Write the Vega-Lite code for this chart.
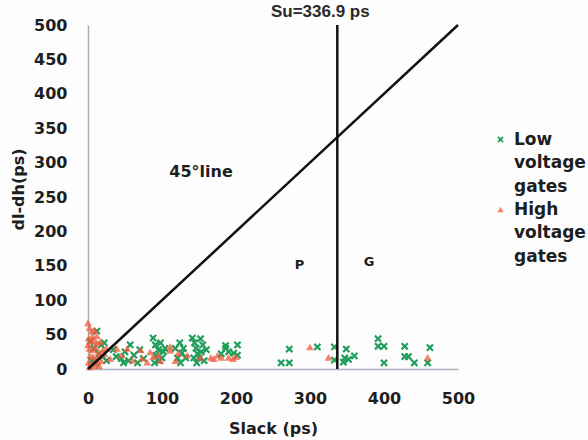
{
  "$schema": "https://vega.github.io/schema/vega-lite/v6.json",
  "width": 370,
  "height": 344,
  "autosize": {"type": "none"},
  "padding": {"left": 88, "top": 25, "right": 130, "bottom": 71},
  "background": "#fdfdfd",
  "config": {
    "font": "DejaVu Sans",
    "view": {"stroke": null},
    "style": {"guide-label": {"lineHeight": 23.5}},
    "axis": {"grid": false, "ticks": false, "labelFlush": false, "labelOverlap": false, "domainColor": "#a9b2bc", "domainWidth": 1.5, "labelFont": "DejaVu Sans", "labelFontWeight": "bold", "labelFontSize": 16, "labelColor": "#1e1e1e", "titleFont": "DejaVu Sans", "titleFontWeight": "bold", "titleFontSize": 16, "titleColor": "#1e1e1e"}
  },
  "datasets": {
    "pts": [
      {"slack": 12, "d": 55, "g": "Low voltage gates"},
      {"slack": 3, "d": 40, "g": "Low voltage gates"},
      {"slack": 8, "d": 30, "g": "Low voltage gates"},
      {"slack": 15, "d": 22, "g": "Low voltage gates"},
      {"slack": 5, "d": 12, "g": "Low voltage gates"},
      {"slack": 18, "d": 35, "g": "Low voltage gates"},
      {"slack": 10, "d": 8, "g": "Low voltage gates"},
      {"slack": 22, "d": 38, "g": "Low voltage gates"},
      {"slack": 20, "d": 18, "g": "Low voltage gates"},
      {"slack": 25, "d": 12, "g": "Low voltage gates"},
      {"slack": 34, "d": 28, "g": "Low voltage gates"},
      {"slack": 38, "d": 18, "g": "Low voltage gates"},
      {"slack": 45, "d": 15, "g": "Low voltage gates"},
      {"slack": 50, "d": 25, "g": "Low voltage gates"},
      {"slack": 55, "d": 12, "g": "Low voltage gates"},
      {"slack": 57, "d": 35, "g": "Low voltage gates"},
      {"slack": 62, "d": 20, "g": "Low voltage gates"},
      {"slack": 67, "d": 9, "g": "Low voltage gates"},
      {"slack": 70, "d": 28, "g": "Low voltage gates"},
      {"slack": 75, "d": 15, "g": "Low voltage gates"},
      {"slack": 48, "d": 9, "g": "Low voltage gates"},
      {"slack": 88, "d": 45, "g": "Low voltage gates"},
      {"slack": 91, "d": 35, "g": "Low voltage gates"},
      {"slack": 92, "d": 20, "g": "Low voltage gates"},
      {"slack": 95, "d": 28, "g": "Low voltage gates"},
      {"slack": 96, "d": 12, "g": "Low voltage gates"},
      {"slack": 98, "d": 38, "g": "Low voltage gates"},
      {"slack": 100, "d": 16, "g": "Low voltage gates"},
      {"slack": 102, "d": 25, "g": "Low voltage gates"},
      {"slack": 90, "d": 9, "g": "Low voltage gates"},
      {"slack": 104, "d": 30, "g": "Low voltage gates"},
      {"slack": 118, "d": 30, "g": "Low voltage gates"},
      {"slack": 121, "d": 16, "g": "Low voltage gates"},
      {"slack": 124, "d": 38, "g": "Low voltage gates"},
      {"slack": 127, "d": 23, "g": "Low voltage gates"},
      {"slack": 129, "d": 30, "g": "Low voltage gates"},
      {"slack": 132, "d": 16, "g": "Low voltage gates"},
      {"slack": 125, "d": 9, "g": "Low voltage gates"},
      {"slack": 141, "d": 45, "g": "Low voltage gates"},
      {"slack": 144, "d": 38, "g": "Low voltage gates"},
      {"slack": 146, "d": 30, "g": "Low voltage gates"},
      {"slack": 148, "d": 22, "g": "Low voltage gates"},
      {"slack": 150, "d": 16, "g": "Low voltage gates"},
      {"slack": 152, "d": 44, "g": "Low voltage gates"},
      {"slack": 155, "d": 35, "g": "Low voltage gates"},
      {"slack": 147, "d": 9, "g": "Low voltage gates"},
      {"slack": 153, "d": 25, "g": "Low voltage gates"},
      {"slack": 157, "d": 12, "g": "Low voltage gates"},
      {"slack": 160, "d": 28, "g": "Low voltage gates"},
      {"slack": 143, "d": 16, "g": "Low voltage gates"},
      {"slack": 180, "d": 22, "g": "Low voltage gates"},
      {"slack": 186, "d": 30, "g": "Low voltage gates"},
      {"slack": 190, "d": 25, "g": "Low voltage gates"},
      {"slack": 197, "d": 23, "g": "Low voltage gates"},
      {"slack": 202, "d": 35, "g": "Low voltage gates"},
      {"slack": 202, "d": 20, "g": "Low voltage gates"},
      {"slack": 186, "d": 34, "g": "Low voltage gates"},
      {"slack": 261, "d": 9, "g": "Low voltage gates"},
      {"slack": 272, "d": 9, "g": "Low voltage gates"},
      {"slack": 272, "d": 29, "g": "Low voltage gates"},
      {"slack": 310, "d": 32, "g": "Low voltage gates"},
      {"slack": 333, "d": 32, "g": "Low voltage gates"},
      {"slack": 333, "d": 13, "g": "Low voltage gates"},
      {"slack": 349, "d": 29, "g": "Low voltage gates"},
      {"slack": 347, "d": 16, "g": "Low voltage gates"},
      {"slack": 345, "d": 10, "g": "Low voltage gates"},
      {"slack": 352, "d": 14, "g": "Low voltage gates"},
      {"slack": 360, "d": 19, "g": "Low voltage gates"},
      {"slack": 392, "d": 44, "g": "Low voltage gates"},
      {"slack": 392, "d": 33, "g": "Low voltage gates"},
      {"slack": 400, "d": 33, "g": "Low voltage gates"},
      {"slack": 400, "d": 9, "g": "Low voltage gates"},
      {"slack": 428, "d": 33, "g": "Low voltage gates"},
      {"slack": 428, "d": 18, "g": "Low voltage gates"},
      {"slack": 433, "d": 18, "g": "Low voltage gates"},
      {"slack": 441, "d": 9, "g": "Low voltage gates"},
      {"slack": 459, "d": 9, "g": "Low voltage gates"},
      {"slack": 462, "d": 31, "g": "Low voltage gates"},
      {"slack": 0, "d": 67, "g": "High voltage gates"},
      {"slack": 2, "d": 60, "g": "High voltage gates"},
      {"slack": 5, "d": 55, "g": "High voltage gates"},
      {"slack": 9, "d": 57, "g": "High voltage gates"},
      {"slack": 1, "d": 45, "g": "High voltage gates"},
      {"slack": 4, "d": 40, "g": "High voltage gates"},
      {"slack": 8, "d": 42, "g": "High voltage gates"},
      {"slack": 12, "d": 38, "g": "High voltage gates"},
      {"slack": 2, "d": 30, "g": "High voltage gates"},
      {"slack": 6, "d": 28, "g": "High voltage gates"},
      {"slack": 10, "d": 32, "g": "High voltage gates"},
      {"slack": 14, "d": 25, "g": "High voltage gates"},
      {"slack": 3, "d": 20, "g": "High voltage gates"},
      {"slack": 7, "d": 18, "g": "High voltage gates"},
      {"slack": 11, "d": 15, "g": "High voltage gates"},
      {"slack": 16, "d": 20, "g": "High voltage gates"},
      {"slack": 20, "d": 28, "g": "High voltage gates"},
      {"slack": 1, "d": 10, "g": "High voltage gates"},
      {"slack": 5, "d": 8, "g": "High voltage gates"},
      {"slack": 9, "d": 5, "g": "High voltage gates"},
      {"slack": 13, "d": 10, "g": "High voltage gates"},
      {"slack": 18, "d": 12, "g": "High voltage gates"},
      {"slack": 2, "d": 3, "g": "High voltage gates"},
      {"slack": 15, "d": 5, "g": "High voltage gates"},
      {"slack": 22, "d": 22, "g": "High voltage gates"},
      {"slack": 25, "d": 30, "g": "High voltage gates"},
      {"slack": 6, "d": 48, "g": "High voltage gates"},
      {"slack": 12, "d": 48, "g": "High voltage gates"},
      {"slack": 0, "d": 35, "g": "High voltage gates"},
      {"slack": 17, "d": 40, "g": "High voltage gates"},
      {"slack": 39, "d": 30, "g": "High voltage gates"},
      {"slack": 53, "d": 30, "g": "High voltage gates"},
      {"slack": 71, "d": 28, "g": "High voltage gates"},
      {"slack": 73, "d": 16, "g": "High voltage gates"},
      {"slack": 60, "d": 13, "g": "High voltage gates"},
      {"slack": 80, "d": 10, "g": "High voltage gates"},
      {"slack": 45, "d": 20, "g": "High voltage gates"},
      {"slack": 30, "d": 15, "g": "High voltage gates"},
      {"slack": 84, "d": 25, "g": "High voltage gates"},
      {"slack": 88, "d": 18, "g": "High voltage gates"},
      {"slack": 95, "d": 20, "g": "High voltage gates"},
      {"slack": 98, "d": 12, "g": "High voltage gates"},
      {"slack": 111, "d": 27, "g": "High voltage gates"},
      {"slack": 111, "d": 33, "g": "High voltage gates"},
      {"slack": 122, "d": 23, "g": "High voltage gates"},
      {"slack": 134, "d": 20, "g": "High voltage gates"},
      {"slack": 118, "d": 12, "g": "High voltage gates"},
      {"slack": 152, "d": 17, "g": "High voltage gates"},
      {"slack": 166, "d": 17, "g": "High voltage gates"},
      {"slack": 175, "d": 20, "g": "High voltage gates"},
      {"slack": 180, "d": 17, "g": "High voltage gates"},
      {"slack": 190, "d": 17, "g": "High voltage gates"},
      {"slack": 196, "d": 15, "g": "High voltage gates"},
      {"slack": 170, "d": 15, "g": "High voltage gates"},
      {"slack": 200, "d": 18, "g": "High voltage gates"},
      {"slack": 300, "d": 32, "g": "High voltage gates"},
      {"slack": 325, "d": 17, "g": "High voltage gates"},
      {"slack": 459, "d": 17, "g": "High voltage gates"}
    ],
    "diag": [{"slack": 0, "d": 0}, {"slack": 500, "d": 500}],
    "su": [{"slack": 336.9, "label": "Su=336.9 ps", "d": 500, "d0": 0}],
    "notes": [
      {"slack": 152.7, "d": 287, "label": "45°line", "size": 16},
      {"slack": 286, "d": 151, "label": "P", "size": 13},
      {"slack": 380, "d": 156, "label": "G", "size": 13}
    ]
  },
  "encoding": {
    "x": {"field": "slack", "type": "quantitative", "scale": {"domain": [0, 500], "nice": false}, "axis": {"values": [0, 100, 200, 300, 400, 500], "title": "Slack (ps)", "labelPadding": 21, "titlePadding": 14, "labelOverlap": false, "labelFlush": false}},
    "y": {"field": "d", "type": "quantitative", "scale": {"domain": [0, 500], "nice": false}, "axis": {"values": [0, 50, 100, 150, 200, 250, 300, 350, 400, 450, 500], "title": "dl-dh(ps)", "labelPadding": 21, "titleX": -62, "titleY": 164, "labelOverlap": false, "labelFlush": false}}
  },
  "layer": [
    {
      "data": {"name": "pts"},
      "mark": {"type": "point", "filled": true, "size": 60},
      "encoding": {
        "color": {"field": "g", "type": "nominal", "scale": {"domain": ["Low voltage gates", "High voltage gates"], "range": ["#1f9e5c", "#f05a3c"]}, "legend": {"title": null, "orient": "none", "legendX": 404, "legendY": 106, "labelFont": "DejaVu Sans", "labelFontWeight": "bold", "labelFontSize": 17, "labelColor": "#1e1e1e", "labelOffset": 5, "labelExpr": "split(datum.label, ' ')", "labelBaseline": "middle", "rowPadding": 5, "symbolSize": 40}},
        "shape": {"field": "g", "type": "nominal", "scale": {"domain": ["Low voltage gates", "High voltage gates"], "range": ["M-1,-0.6L-0.6,-1L0,-0.4L0.6,-1L1,-0.6L0.4,0L1,0.6L0.6,1L0,0.4L-0.6,1L-1,0.6L-0.4,0Z", "triangle-up"]}, "legend": null},
        "opacity": {"field": "g", "type": "nominal", "scale": {"domain": ["Low voltage gates", "High voltage gates"], "range": [1, 0.75]}, "legend": null}
      }
    },
    {
      "data": {"name": "diag"},
      "mark": {"type": "line", "color": "#111111", "strokeWidth": 2.5},
      "encoding": {}
    },
    {
      "data": {"name": "su"},
      "mark": {"type": "rule", "color": "#111111", "strokeWidth": 2.5},
      "encoding": {"y2": {"field": "d0"}}
    },
    {
      "data": {"name": "su"},
      "mark": {"type": "text", "font": "Liberation Sans", "fontWeight": "bold", "fontSize": 17, "color": "#2a2a2a", "dx": -17, "dy": -13, "clip": false},
      "encoding": {"text": {"field": "label"}}
    },
    {
      "data": {"name": "notes"},
      "mark": {"type": "text", "font": "DejaVu Sans", "fontWeight": "bold", "color": "#1e1e1e"},
      "encoding": {"text": {"field": "label"}, "size": {"field": "size", "type": "quantitative", "scale": null}}
    }
  ]
}
